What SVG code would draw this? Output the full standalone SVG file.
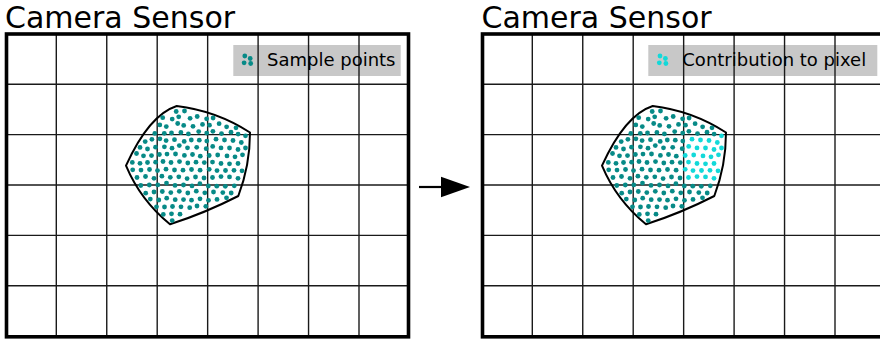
<svg xmlns="http://www.w3.org/2000/svg" width="880" height="340" viewBox="0 0 880 340">
<style>
  .title{font-family:"DejaVu Sans",Verdana,sans-serif;font-size:30px;fill:#000}
  .lg{font-family:"DejaVu Sans",Verdana,sans-serif;font-size:18px;fill:#000}
  .box{fill:#c8c8c8}
  .frame{fill:none;stroke:#000;stroke-width:3.6}
  .outline{fill:none;stroke:#000;stroke-width:2;stroke-linejoin:round}
  .teal{fill:#078a87}
  .cyan{fill:#12d9d9}
</style>
<defs>
  <!-- 8 x 6 pixel grid of the sensor -->
  <g id="gridlines" stroke="#1a1a1a" stroke-width="1.4">
    <line x1="56.3" y1="34" x2="56.3" y2="336.8"/>
    <line x1="106.75" y1="34" x2="106.75" y2="336.8"/>
    <line x1="157.2" y1="34" x2="157.2" y2="336.8"/>
    <line x1="207.65" y1="34" x2="207.65" y2="336.8"/>
    <line x1="258.1" y1="34" x2="258.1" y2="336.8"/>
    <line x1="308.55" y1="34" x2="308.55" y2="336.8"/>
    <line x1="359" y1="34" x2="359" y2="336.8"/>
    <line x1="6.5" y1="84.2" x2="408.5" y2="84.2"/>
    <line x1="6.5" y1="134.6" x2="408.5" y2="134.6"/>
    <line x1="6.5" y1="185" x2="408.5" y2="185"/>
    <line x1="6.5" y1="235.4" x2="408.5" y2="235.4"/>
    <line x1="6.5" y1="285.8" x2="408.5" y2="285.8"/>
  </g>
  <!-- projected footprint on the sensor -->
  <path id="footprint" d="M176.7,106 Q216.4,110.8 250,132.5 Q250,165.3 238.3,196 Q205.3,212.9 170,224.3 Q140.6,200.5 126,165.7 Q149,115 176.7,106 Z"/>
  <!-- sample points outside the highlighted pixel -->
  <g id="dots-rest">
    <circle cx="176.2" cy="111.5" r="2.4"/><circle cx="184.5" cy="111" r="2.4"/>
    <circle cx="162.7" cy="117.7" r="2.4"/><circle cx="172.2" cy="119.1" r="2.4"/><circle cx="178.7" cy="116.8" r="2.4"/><circle cx="190.1" cy="118.3" r="2.4"/><circle cx="197.2" cy="116.5" r="2.4"/><circle cx="206.6" cy="118.8" r="2.4"/><circle cx="213.1" cy="118" r="2.4"/>
    <circle cx="159.8" cy="124.9" r="2.4"/><circle cx="166.3" cy="126.6" r="2.4"/><circle cx="177.7" cy="123.5" r="2.4"/><circle cx="183.7" cy="125.4" r="2.4"/><circle cx="193" cy="126.3" r="2.4"/><circle cx="202.5" cy="124.4" r="2.4"/><circle cx="209.5" cy="125.2" r="2.4"/><circle cx="219.1" cy="123.7" r="2.4"/><circle cx="226.6" cy="126.8" r="2.4"/>
    <circle cx="154.8" cy="133.4" r="2.4"/><circle cx="164.3" cy="133.3" r="2.4"/><circle cx="171.5" cy="133" r="2.4"/><circle cx="180.9" cy="132.5" r="2.4"/><circle cx="188.4" cy="133.9" r="2.4"/><circle cx="198.7" cy="131.6" r="2.4"/><circle cx="206.7" cy="133.1" r="2.4"/><circle cx="212.9" cy="131.3" r="2.4"/><circle cx="221.5" cy="133.6" r="2.4"/><circle cx="231" cy="132.2" r="2.4"/><circle cx="238.1" cy="134.1" r="2.4"/><circle cx="236" cy="127.8" r="2.4"/>
    <circle cx="145.2" cy="141.6" r="2.4"/><circle cx="151.9" cy="139.3" r="2.4"/><circle cx="159.9" cy="138.8" r="2.4"/><circle cx="166.1" cy="140.6" r="2.4"/><circle cx="174.5" cy="139.7" r="2.4"/><circle cx="184.2" cy="141.4" r="2.4"/><circle cx="191.3" cy="140" r="2.4"/><circle cx="199.3" cy="140.2" r="2.4"/><circle cx="206.8" cy="141.1" r="2.4"/>
    <circle cx="140" cy="147.4" r="2.4"/><circle cx="147.5" cy="149" r="2.4"/><circle cx="155.5" cy="147.2" r="2.4"/><circle cx="164.4" cy="146.8" r="2.4"/><circle cx="172" cy="148.2" r="2.4"/><circle cx="179.3" cy="145.6" r="2.4"/><circle cx="187.5" cy="147.8" r="2.4"/><circle cx="196.7" cy="147.3" r="2.4"/><circle cx="206.2" cy="148.7" r="2.4"/>
    <circle cx="136.5" cy="153.5" r="2.4"/><circle cx="143.5" cy="155.8" r="2.4"/><circle cx="151.5" cy="155.6" r="2.4"/><circle cx="159.4" cy="154.5" r="2.4"/><circle cx="167" cy="154.1" r="2.4"/><circle cx="175.5" cy="154" r="2.4"/><circle cx="184.4" cy="155.4" r="2.4"/><circle cx="192.5" cy="154.5" r="2.4"/><circle cx="200.3" cy="156.2" r="2.4"/>
    <circle cx="132.3" cy="162.4" r="2.4"/><circle cx="140" cy="163.3" r="2.4"/><circle cx="147.5" cy="162.5" r="2.4"/><circle cx="155.6" cy="162.2" r="2.4"/><circle cx="163" cy="161.5" r="2.4"/><circle cx="171" cy="162.5" r="2.4"/><circle cx="179.5" cy="161.6" r="2.4"/><circle cx="187.8" cy="163" r="2.4"/><circle cx="196" cy="162.2" r="2.4"/><circle cx="204.3" cy="162.6" r="2.4"/>
    <circle cx="132.7" cy="169.8" r="2.4"/><circle cx="141" cy="170.1" r="2.4"/><circle cx="149.5" cy="169.5" r="2.4"/><circle cx="157.5" cy="170.6" r="2.4"/><circle cx="166" cy="169.2" r="2.4"/><circle cx="174.5" cy="170" r="2.4"/><circle cx="183" cy="170.2" r="2.4"/><circle cx="191.5" cy="169.5" r="2.4"/><circle cx="200.1" cy="170.2" r="2.4"/>
    <circle cx="137" cy="177.5" r="2.4"/><circle cx="145.5" cy="176.5" r="2.4"/><circle cx="154" cy="178.3" r="2.4"/><circle cx="161.9" cy="176.2" r="2.4"/><circle cx="170.3" cy="177.3" r="2.4"/><circle cx="178.8" cy="176.8" r="2.4"/><circle cx="187.1" cy="178.6" r="2.4"/><circle cx="195.5" cy="177" r="2.4"/><circle cx="204" cy="178" r="2.4"/>
    <circle cx="140.8" cy="185.5" r="2.4"/><circle cx="149.3" cy="185" r="2.4"/><circle cx="157.8" cy="184.9" r="2.4"/><circle cx="166.5" cy="183.1" r="2.4"/><circle cx="175" cy="185.4" r="2.4"/><circle cx="183.5" cy="185" r="2.4"/><circle cx="192" cy="185.9" r="2.4"/><circle cx="199.9" cy="183.7" r="2.4"/><circle cx="208.3" cy="186" r="2.4"/><circle cx="216.8" cy="186.2" r="2.4"/><circle cx="225.3" cy="186.3" r="2.4"/><circle cx="234.3" cy="185.8" r="2.4"/>
    <circle cx="145.7" cy="193.2" r="2.4"/><circle cx="154" cy="192" r="2.4"/><circle cx="162.3" cy="191.5" r="2.4"/><circle cx="170.8" cy="192.6" r="2.4"/><circle cx="179.3" cy="191.3" r="2.4"/><circle cx="187.8" cy="193" r="2.4"/><circle cx="196.3" cy="191.2" r="2.4"/><circle cx="204.8" cy="192.8" r="2.4"/><circle cx="213.5" cy="192" r="2.4"/><circle cx="222.8" cy="192.6" r="2.4"/><circle cx="231.2" cy="193" r="2.4"/>
    <circle cx="150.3" cy="199.1" r="2.4"/><circle cx="158.8" cy="200" r="2.4"/><circle cx="166.7" cy="198.2" r="2.4"/><circle cx="175.2" cy="199.7" r="2.4"/><circle cx="183.5" cy="199.6" r="2.4"/><circle cx="191.5" cy="200.2" r="2.4"/><circle cx="200" cy="198.8" r="2.4"/><circle cx="208.5" cy="200.3" r="2.4"/><circle cx="217" cy="199.4" r="2.4"/><circle cx="226.5" cy="197.8" r="2.4"/>
    <circle cx="156.5" cy="206.8" r="2.4"/><circle cx="164.5" cy="207" r="2.4"/><circle cx="172.5" cy="206.5" r="2.4"/><circle cx="181" cy="206.8" r="2.4"/><circle cx="189.7" cy="207.7" r="2.4"/><circle cx="197" cy="206" r="2.4"/><circle cx="205.8" cy="206.3" r="2.4"/>
    <circle cx="163.3" cy="214.4" r="2.4"/><circle cx="171.5" cy="213.8" r="2.4"/><circle cx="180" cy="214.2" r="2.4"/><circle cx="172.2" cy="220.6" r="2.4"/>
  </g>
  <!-- sample points falling inside pixel (col 5, row 3) -->
  <g id="dots-cell">
    <circle cx="245.5" cy="135.8" r="2.4"/>
    <circle cx="216" cy="139.2" r="2.4"/><circle cx="224.5" cy="140" r="2.4"/><circle cx="233" cy="140.5" r="2.4"/><circle cx="241.3" cy="142.5" r="2.4"/>
    <circle cx="212.7" cy="146.4" r="2.4"/><circle cx="221" cy="147.9" r="2.4"/><circle cx="229.5" cy="148" r="2.4"/><circle cx="238" cy="149.5" r="2.4"/><circle cx="245.5" cy="148" r="2.4"/>
    <circle cx="209.2" cy="155.5" r="2.4"/><circle cx="217.7" cy="155" r="2.4"/><circle cx="227" cy="155.9" r="2.4"/><circle cx="235" cy="156.8" r="2.4"/><circle cx="242.5" cy="154.8" r="2.4"/>
    <circle cx="212.5" cy="162.1" r="2.4"/><circle cx="221" cy="163.5" r="2.4"/><circle cx="229.5" cy="163.8" r="2.4"/><circle cx="238" cy="163.5" r="2.4"/>
    <circle cx="209.2" cy="169.3" r="2.4"/><circle cx="217" cy="170.6" r="2.4"/><circle cx="225.5" cy="170.5" r="2.4"/><circle cx="234" cy="170.3" r="2.4"/><circle cx="242" cy="170.8" r="2.4"/>
    <circle cx="212.5" cy="177.5" r="2.4"/><circle cx="221" cy="176.6" r="2.4"/><circle cx="229.5" cy="176.9" r="2.4"/><circle cx="238" cy="178.3" r="2.4"/>
  </g>
  <g id="legend-dots">
    <circle cx="0" cy="0" r="2.4"/><circle cx="5.4" cy="2.5" r="2.4"/><circle cx="-0.7" cy="6.8" r="2.4"/><circle cx="5.9" cy="7.5" r="2.4"/>
  </g>
</defs>

<rect width="880" height="340" fill="#fff"/>

<!-- left sensor: all sample points -->
<g id="sensor-left">
  <text class="title" x="5" y="27.5">Camera Sensor</text>
  <rect class="box" x="233.3" y="45" width="167.4" height="31"/>
  <use href="#gridlines"/>
  <rect class="frame" x="6.5" y="34" width="402" height="302.8"/>
  <use href="#legend-dots" class="teal" x="244.8" y="56"/>
  <text class="lg" x="267" y="66">Sample points</text>
  <use href="#footprint" class="outline"/>
  <use href="#dots-rest" class="teal"/>
  <use href="#dots-cell" class="teal"/>
</g>

<!-- right sensor: points contributing to one pixel -->
<g id="sensor-right" transform="translate(476,0)">
  <text class="title" x="5.5" y="27.5">Camera Sensor</text>
  <rect class="box" x="172.3" y="45" width="229" height="31"/>
  <use href="#gridlines"/>
  <rect class="frame" x="6.5" y="34" width="402" height="302.8"/>
  <use href="#legend-dots" class="cyan" x="184" y="56"/>
  <text class="lg" x="206.3" y="66">Contribution to pixel</text>
  <use href="#footprint" class="outline"/>
  <use href="#dots-rest" class="teal"/>
  <use href="#dots-cell" class="cyan"/>
</g>

<g id="connectors">
  <line x1="419" y1="187" x2="444" y2="187" stroke="#000" stroke-width="2.2"/>
  <polygon points="441,176.8 470,187 441,197.2" fill="#000"/>
</g>
</svg>
